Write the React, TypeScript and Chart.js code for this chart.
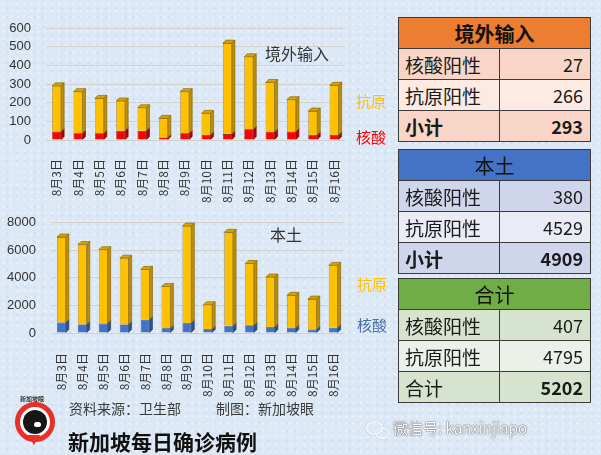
import React, { useEffect, useRef } from "react";
import { Chart, registerables } from "chart.js";

Chart.register(...registerables);

// ---------- data ----------
const dates = ["8月3日", "8月4日", "8月5日", "8月6日", "8月7日", "8月8日", "8月9日", "8月10日", "8月11日", "8月12日", "8月13日", "8月14日", "8月15日", "8月16日"];

const importedNucleic = [45, 36, 36, 50, 50, 14, 36, 27, 32, 57, 43, 45, 27, 27];
const importedAntigen = [245, 223, 187, 159, 123, 102, 223, 116, 487, 389, 265, 171, 128, 266];

const localNucleic = [754, 617, 686, 617, 960, 343, 731, 297, 526, 571, 434, 366, 251, 380];
const localAntigen = [6212, 5801, 5366, 4818, 3652, 3035, 7035, 1755, 6783, 4475, 3630, 2372, 2213, 4529];

const importedMax = 600;
const importedStep = 100;
const localMax = 8000;
const localStep = 2000;

const seriesNames = ["核酸", "抗原"];
const rowLabels = ["核酸阳性", "抗原阳性"];
const tableImported = { title: "境外输入", values: [27, 266], total: 293, totalLabel: "小计" };
const tableLocal = { title: "本土", values: [380, 4529], total: 4909, totalLabel: "小计" };
const tableAll = { title: "合计", values: [407, 4795], total: 5202, totalLabel: "合计" };

const CJK = '"Noto Sans CJK SC", "Noto Sans", sans-serif';

// ---------- 3D look plugin ----------
const depthPlugin = {
  id: "depth3d",
  afterDatasetsDraw(chart: any, _args: any, opts: any) {
    const ctx = chart.ctx;
    const d = opts.depth || 3;
    const n = chart.data.datasets.length;
    ctx.save();
    for (let di = 0; di < n; di++) {
      const meta = chart.getDatasetMeta(di);
      meta.data.forEach((bar: any) => {
        const p = bar.getProps(["x", "y", "base", "width"], true);
        const l = p.x - p.width / 2;
        const r = p.x + p.width / 2;
        const top = Math.min(p.y, p.base);
        const bot = Math.max(p.y, p.base);
        ctx.fillStyle = opts.sides[di];
        ctx.strokeStyle = opts.edges[di];
        ctx.lineWidth = 0.6;
        ctx.beginPath();
        ctx.moveTo(r, bot);
        ctx.lineTo(r, top);
        ctx.lineTo(r + d, top - d);
        ctx.lineTo(r + d, bot - d);
        ctx.closePath();
        ctx.fill();
        ctx.stroke();
        if (di === n - 1) {
          ctx.fillStyle = opts.tops[di];
          ctx.beginPath();
          ctx.moveTo(l, top);
          ctx.lineTo(l + d, top - d);
          ctx.lineTo(r + d, top - d);
          ctx.lineTo(r, top);
          ctx.closePath();
          ctx.fill();
          ctx.stroke();
        }
      });
    }
    ctx.restore();
  },
};

type BarProps = {
  nucleic: number[];
  antigen: number[];
  nucColor: string;
  nucSide: string;
  nucEdge: string;
  max: number;
  step: number;
  yWidth: number;
  xHeight: number;
  padTop: number;
  padRight: number;
  width: number;
  height: number;
  tickPad: number;
  xPad: number;
};

function BarChart(props: BarProps) {
  const ref = useRef<HTMLCanvasElement | null>(null);
  useEffect(() => {
    if (!ref.current) return;
    const chart = new Chart(ref.current, {
      type: "bar",
      data: {
        labels: dates,
        datasets: [
          {
            label: seriesNames[0],
            data: props.nucleic,
            backgroundColor: props.nucColor,
            borderColor: props.nucEdge,
            borderWidth: 0.6,
            categoryPercentage: 1,
            barPercentage: 0.42,
          },
          {
            label: seriesNames[1],
            data: props.antigen,
            backgroundColor: "#FFC000",
            borderColor: "#8a6a00",
            borderWidth: 0.6,
            categoryPercentage: 1,
            barPercentage: 0.42,
          },
        ],
      },
      options: {
        responsive: false,
        animation: false,
        layout: { padding: { top: props.padTop, right: props.padRight, left: 0, bottom: 0 } },
        plugins: {
          legend: { display: false },
          tooltip: { enabled: false },
          depth3d: {
            depth: 3,
            sides: [props.nucSide, "#BF8F00"],
            tops: [props.nucSide, "#D9A400"],
            edges: [props.nucEdge, "#7a5c00"],
          },
        } as any,
        scales: {
          x: {
            stacked: true,
            grid: { display: false },
            border: { display: false },
            ticks: {
              autoSkip: false,
              minRotation: 90,
              maxRotation: 90,
              padding: props.xPad,
              color: "#333",
              font: { family: CJK, size: 12 },
            },
            afterFit: (s: any) => {
              s.height = props.xHeight;
            },
          },
          y: {
            stacked: true,
            min: 0,
            max: props.max,
            ticks: {
              stepSize: props.step,
              padding: props.tickPad,
              color: "#333",
              font: { family: '"Liberation Sans", sans-serif', size: 13 },
              callback: (v: any) => String(v),
            },
            grid: { color: "rgba(205,200,190,0.75)", drawTicks: false, lineWidth: 1 },
            border: { display: false },
            afterFit: (s: any) => {
              s.width = props.yWidth;
            },
          },
        },
      },
      plugins: [depthPlugin],
    });
    return () => chart.destroy();
  }, []);
  return <canvas ref={ref} width={props.width} height={props.height} style={{ display: "block" }} />;
}

function SumTable({ data, head, rowA, rowB, top, boldHead, boldTotalLabel }: any) {
  const border = "1.5px solid #3a3a3a";
  const cellL: React.CSSProperties = {
    borderRight: border,
    borderTop: border,
    padding: "0 0 0 6px",
    height: 30,
    fontSize: 19,
    textAlign: "left",
    color: "#1a1a1a",
  };
  const cellR: React.CSSProperties = {
    borderTop: border,
    padding: "0 7px 0 0",
    height: 30,
    fontSize: 18,
    textAlign: "right",
    color: "#1a1a1a",
  };
  return (
    <table
      style={{
        position: "absolute",
        left: 398,
        top,
        width: 192,
        borderCollapse: "collapse",
        border,
        fontFamily: CJK,
        tableLayout: "fixed",
      }}
    >
      <colgroup>
        <col style={{ width: 101 }} />
        <col style={{ width: 91 }} />
      </colgroup>
      <tbody>
        <tr style={{ background: head }}>
          <td colSpan={2} style={{ height: 30, textAlign: "center", fontSize: 20, fontWeight: boldHead ? 700 : 400, color: "#111", padding: 0 }}>
            {data.title}
          </td>
        </tr>
        <tr style={{ background: rowA }}>
          <td style={cellL}>{rowLabels[0]}</td>
          <td style={cellR}>{data.values[0]}</td>
        </tr>
        <tr style={{ background: rowB }}>
          <td style={cellL}>{rowLabels[1]}</td>
          <td style={cellR}>{data.values[1]}</td>
        </tr>
        <tr style={{ background: rowA }}>
          <td style={{ ...cellL, fontWeight: boldTotalLabel ? 700 : 400 }}>{data.totalLabel}</td>
          <td style={{ ...cellR, fontWeight: 700 }}>{data.total}</td>
        </tr>
      </tbody>
    </table>
  );
}

export default function App() {
  const bg =
    "radial-gradient(rgba(255,255,255,0.35) 1px, transparent 1.5px) 0 0/7px 7px, radial-gradient(rgba(190,210,235,0.35) 1px, transparent 1.5px) 3px 4px/9px 9px, #dce8f5";
  const abs = (l: number, t: number, extra: React.CSSProperties = {}): React.CSSProperties => ({
    position: "absolute",
    left: l,
    top: t,
    whiteSpace: "nowrap",
    fontFamily: CJK,
    lineHeight: 1,
    ...extra,
  });
  return (
    <div style={{ position: "absolute", left: 0, top: 0, width: 601, height: 455, overflow: "hidden", background: bg }}>
      <div style={{ position: "absolute", left: 0, top: 0 }}>
        <BarChart
          nucleic={importedNucleic}
          antigen={importedAntigen}
          nucColor="#FF0000"
          nucSide="#B00000"
          nucEdge="#7a0000"
          max={importedMax}
          step={importedStep}
          yWidth={46}
          xHeight={65}
          padTop={28}
          padRight={13}
          width={360}
          height={205}
          tickPad={15}
          xPad={11}
        />
      </div>
      <div style={{ position: "absolute", left: 0, top: 200 }}>
        <BarChart
          nucleic={localNucleic}
          antigen={localAntigen}
          nucColor="#4472C4"
          nucSide="#2F528F"
          nucEdge="#1f3a6a"
          max={localMax}
          step={localStep}
          yWidth={51}
          xHeight={72}
          padTop={17}
          padRight={10}
          width={360}
          height={205}
          tickPad={15}
          xPad={12}
        />
      </div>

      <div style={abs(265, 45, { fontSize: 16, color: "#333" })}>境外输入</div>
      <div style={abs(356, 93, { fontSize: 15, color: "#FFC000" })}>抗原</div>
      <div style={abs(356, 129, { fontSize: 15, color: "#FF0000" })}>核酸</div>

      <div style={abs(270, 226, { fontSize: 16, color: "#333" })}>本土</div>
      <div style={abs(357, 276, { fontSize: 15, color: "#FFC000" })}>抗原</div>
      <div style={abs(357, 317, { fontSize: 15, color: "#4A6FA8" })}>核酸</div>

      <SumTable data={tableImported} head="#ED7D31" rowA="#F8D5C7" rowB="#FCEAE3" top={17} boldHead boldTotalLabel />
      <SumTable data={tableLocal} head="#4472C4" rowA="#CFD5EA" rowB="#E9EBF5" top={149} boldTotalLabel />
      <SumTable data={tableAll} head="#70AD47" rowA="#D5E3CF" rowB="#EBF1E9" top={278} />

      {/* logo */}
      <div style={abs(15, 402, { width: 30, height: 30, borderRadius: "50%", border: "5px solid #E8302A", background: "#fff" })} />
      <div style={abs(28, 435, { width: 0, height: 0, borderLeft: "6px solid transparent", borderRight: "6px solid transparent", borderTop: "10px solid #E8302A" })} />
      <div style={abs(23, 410, { width: 24, height: 24, borderRadius: "50%", background: "#161616" })} />
      <div style={abs(34, 422, { width: 7, height: 5, borderRadius: "3px", background: "#fff" })} />
      <div style={abs(20, 396, { fontSize: 6, color: "#333", fontWeight: 700 })}>新加坡眼</div>

      <div style={abs(69, 401, { fontSize: 14, color: "#3a3a3a" })}>资料来源：卫生部</div>
      <div style={abs(216, 401, { fontSize: 14, color: "#3a3a3a" })}>制图：新加坡眼</div>
      <div style={abs(68, 431, { fontSize: 21, color: "#111", fontWeight: 700 })}>新加坡每日确诊病例</div>

      {/* wechat watermark */}
      <div style={abs(366, 421, { width: 15, height: 12, borderRadius: "50%", border: "1.5px solid #fff", boxShadow: "0 0 1px #777" })} />
      <div style={abs(375, 427, { width: 13, height: 10, borderRadius: "50%", border: "1.5px solid #fff", boxShadow: "0 0 1px #777" })} />
      <div style={abs(393, 420, { fontSize: 15, color: "#fafafa", textShadow: "0 0 1.5px #555, 0 0 1px #555" })}>微信号: kanxinjiapo</div>
    </div>
  );
}
